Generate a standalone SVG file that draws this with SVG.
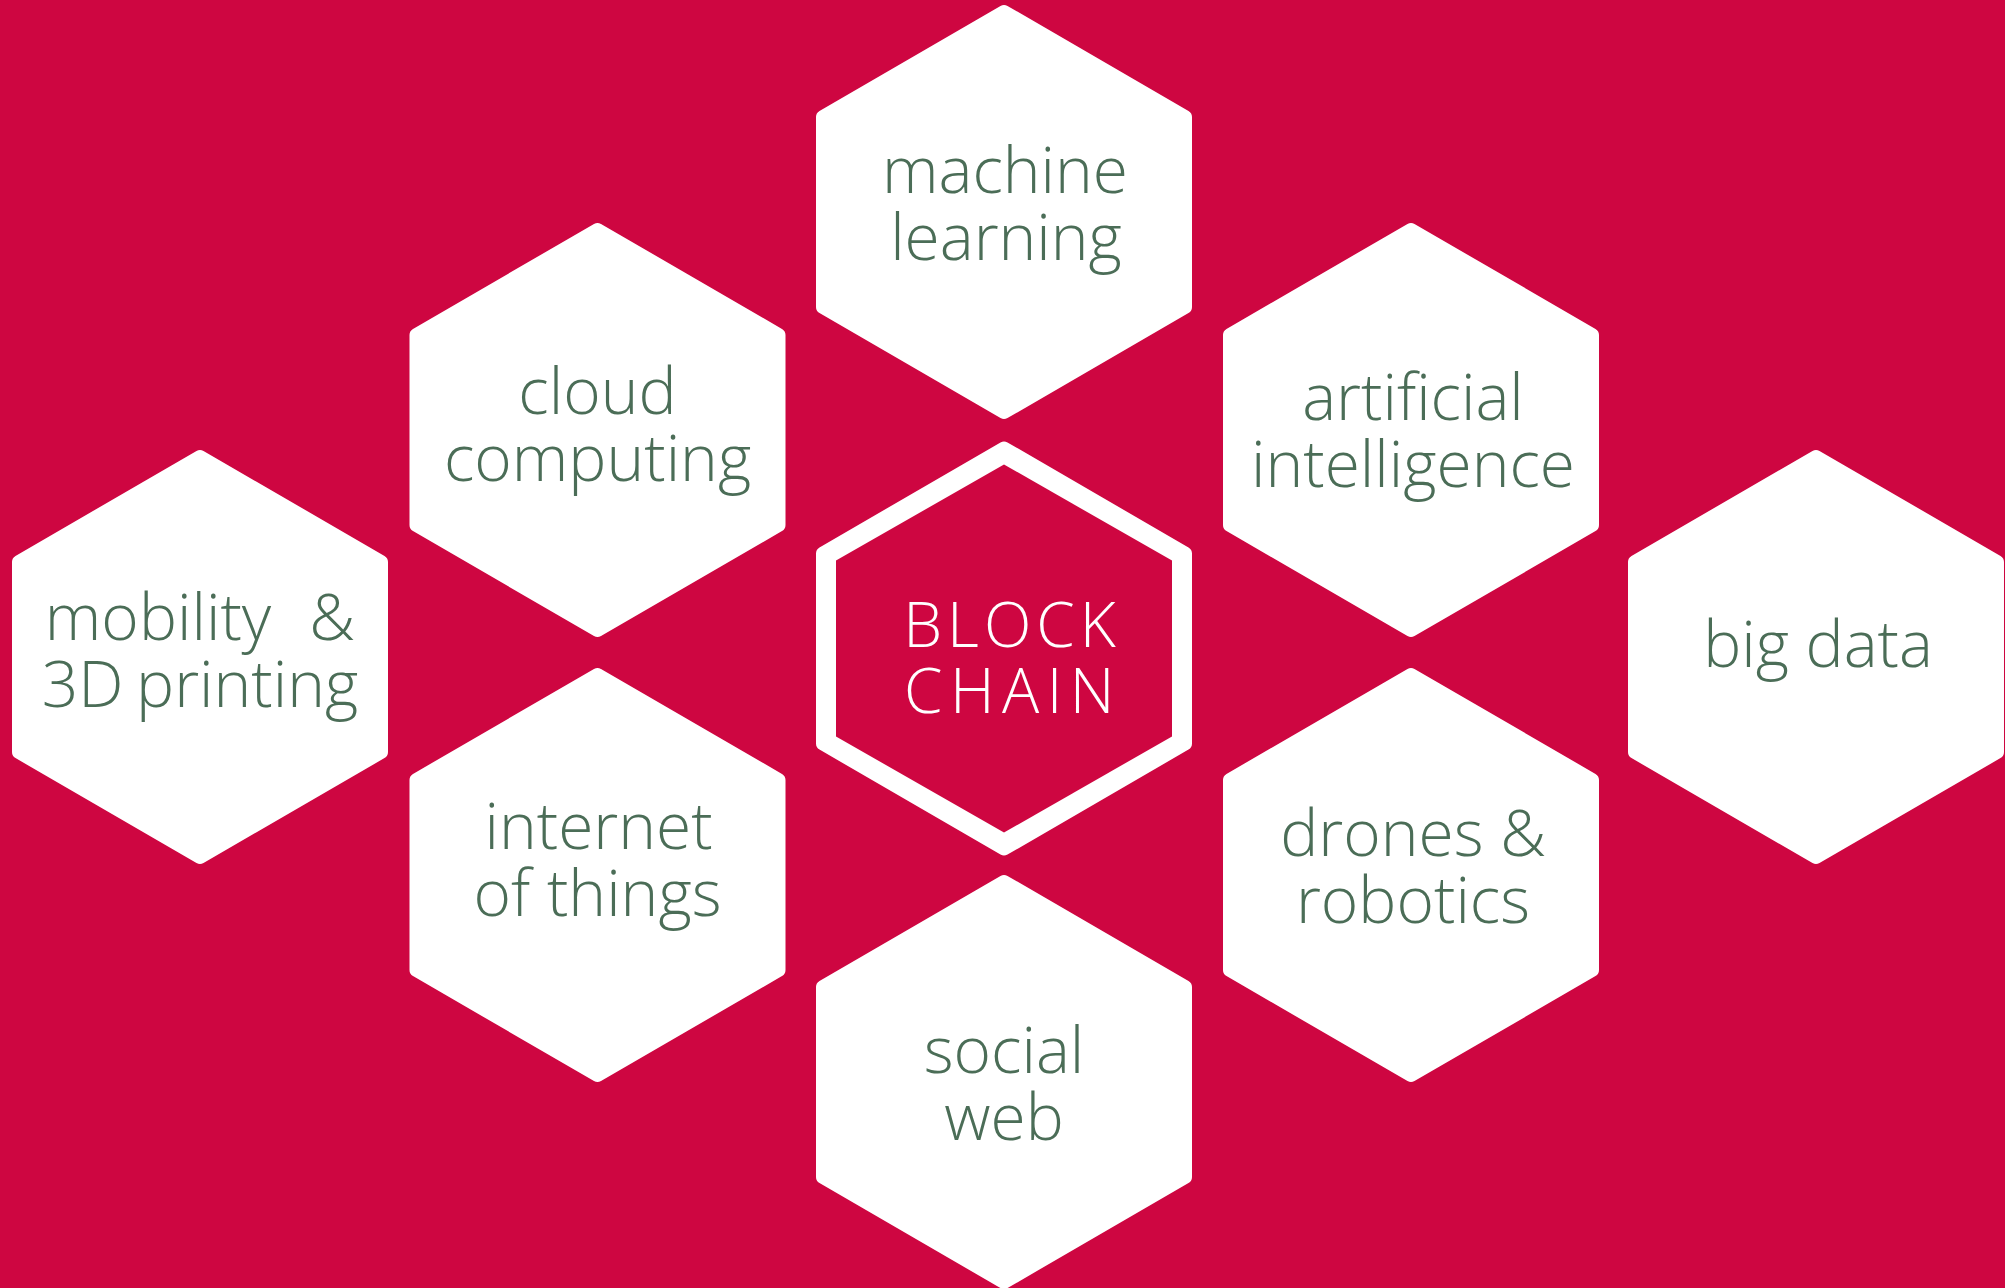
<svg xmlns="http://www.w3.org/2000/svg" width="2005" height="1288" viewBox="0 0 2005 1288">
<defs>
<style>
.hex{fill:#ffffff;stroke:#ffffff;stroke-width:14;stroke-linejoin:round}
.lbl{font-family:"Open Sans","Noto Sans","Liberation Sans",sans-serif;font-weight:300;font-size:64px;fill:#4b6d57;text-anchor:middle}
.bc{font-family:"Open Sans","Noto Sans","Liberation Sans",sans-serif;font-weight:300;font-size:62px;fill:#ffffff;text-anchor:middle;letter-spacing:5px}
.bc2{letter-spacing:7.5px}
</style>
<polygon id="hx" class="hex" points="0,-200 181,-95 181,95 0,200 -181,95 -181,-95"/>
</defs>
<rect x="0" y="0" width="2005" height="1288" fill="#ce0641"/>
<g id="connectors"></g>
<g id="machine-learning" transform="translate(1004,212)">
<use href="#hx"/>
<text class="lbl" x="1" y="-19">machine</text>
<text class="lbl" x="2" y="48">learning</text>
</g>
<g id="cloud-computing" transform="translate(597.5,430)">
<use href="#hx"/>
<text class="lbl" x="0" y="-16">cloud</text>
<text class="lbl" x="0" y="51">computing</text>
</g>
<g id="artificial-intelligence" transform="translate(1411,430)">
<use href="#hx"/>
<text class="lbl" x="2" y="-10">artificial</text>
<text class="lbl" x="2" y="57">intelligence</text>
</g>
<g id="mobility-3d-printing" transform="translate(200,657)">
<use href="#hx"/>
<text class="lbl" y="-17"><tspan x="-42" text-anchor="middle">mobility</tspan><tspan x="132" text-anchor="middle">&amp;</tspan></text>
<text class="lbl" x="0" y="50" word-spacing="-4">3D printing</text>
</g>
<g id="blockchain" transform="translate(1004,648.5)">
<use href="#hx"/>
<polygon fill="#ce0641" points="0,-184 168,-88 168,88 0,184 -168,88 -168,-88"/>
<text class="bc" x="8" y="-1.5">BLOCK</text>
<text class="bc bc2" x="9" y="64.5">CHAIN</text>
</g>
<g id="big-data" transform="translate(1816,657)">
<use href="#hx"/>
<text class="lbl" x="2" y="10">big data</text>
</g>
<g id="internet-of-things" transform="translate(597.5,875)">
<use href="#hx"/>
<text class="lbl" x="1" y="-26">internet</text>
<text class="lbl" x="0" y="41">of things</text>
</g>
<g id="drones-robotics" transform="translate(1411,875)">
<use href="#hx"/>
<text class="lbl" x="2" y="-19">drones &amp;</text>
<text class="lbl" x="2" y="48">robotics</text>
</g>
<g id="social-web" transform="translate(1004,1082)">
<use href="#hx"/>
<text class="lbl" x="0" y="-9">social</text>
<text class="lbl" x="0" y="58">web</text>
</g>
</svg>
